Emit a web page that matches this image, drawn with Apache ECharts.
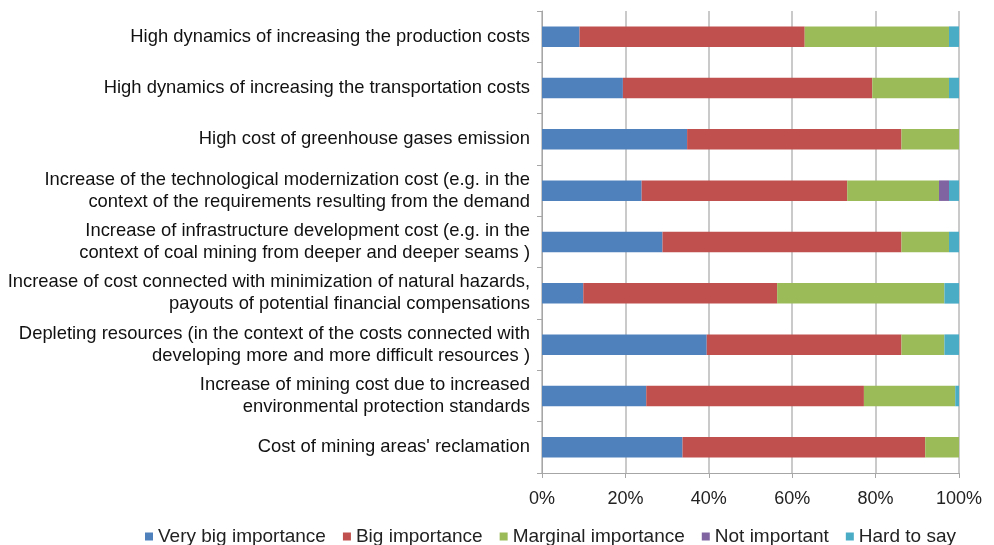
<!DOCTYPE html>
<html><head><meta charset="utf-8">
<script src="https://cdn.jsdelivr.net/npm/echarts@6/dist/echarts.min.js"></script>
<style>html,body{margin:0;padding:0;background:#fff}#c{width:994px;height:545px}</style>
</head><body><div id="c"></div>
<script>
var categories = [
  "High dynamics of increasing the production costs",
  "High dynamics of increasing the transportation costs",
  "High cost of greenhouse gases emission",
  "Increase of the technological modernization cost (e.g. in the\ncontext of the requirements resulting from the demand",
  "Increase of infrastructure development cost (e.g. in the\ncontext of coal mining from deeper and deeper seams )",
  "Increase of cost connected with minimization of natural hazards,\npayouts of potential financial compensations",
  "Depleting resources (in the context of the costs connected with\ndeveloping more and more difficult resources )",
  "Increase of mining cost due to increased\nenvironmental protection standards",
  "Cost of mining areas' reclamation"
];
var veryBig   = [9.0, 19.4, 34.8, 23.9, 28.9, 9.9, 39.5, 25.0, 33.7];
var big       = [54.0, 59.8, 51.4, 49.3, 57.3, 46.5, 46.7, 52.2, 58.2];
var marginal  = [34.6, 18.4, 13.8, 22.0, 11.4, 40.1, 10.3, 21.9, 8.1];
var notImp    = [0, 0, 0, 2.4, 0, 0, 0, 0, 0];
var hardToSay = [2.4, 2.4, 0, 2.4, 2.4, 3.5, 3.5, 0.9, 0];
var xTicks = [0, 20, 40, 60, 80, 100];

var names = ["Very big importance","Big importance","Marginal importance","Not important","Hard to say"];
var colors = ["#4F81BD","#C0504D","#9BBB59","#8064A2","#4BACC6"];
var datas = [veryBig, big, marginal, notImp, hardToSay];
var font = "'Liberation Sans', Arial, sans-serif";

var chart = echarts.init(document.getElementById('c'));
chart.setOption({
  animation: false,
  textStyle: {fontFamily: font},
  grid: {left: 542, right: 35, top: 11, bottom: 72, containLabel: false},
  legend: {
    left: 140, top: 522, itemWidth: 8, itemHeight: 8, itemGap: 17,
    icon: 'rect',
    textStyle: {fontFamily: font, fontSize: 19, color: '#222'},
    data: names
  },
  xAxis: {
    type: 'value', min: xTicks[0], max: xTicks[xTicks.length-1], interval: 20,
    axisLabel: {formatter: '{value}%', fontSize: 18, color: '#222', margin: 17, fontFamily: font},
    axisLine: {show: true, lineStyle: {color: '#a6a6a6', width: 1}},
    axisTick: {show: true, length: 5, lineStyle: {color: '#a6a6a6'}},
    splitLine: {show: true, lineStyle: {color: '#b8b8b8', width: 1.5}}
  },
  yAxis: {
    type: 'category', data: categories, inverse: true,
    axisLabel: {fontSize: 18.4, color: '#111', lineHeight: 22, margin: 12, align: 'right', fontFamily: font},
    axisLine: {show: true, lineStyle: {color: '#a6a6a6', width: 1}},
    axisTick: {show: true, length: 5, lineStyle: {color: '#a6a6a6'}}
  },
  series: names.map(function(n, i){
    return {name: n, type: 'bar', stack: 'all', data: datas[i], barCategoryGap: '60%',
      itemStyle: {color: colors[i]}};
  })
});
</script></body></html>
